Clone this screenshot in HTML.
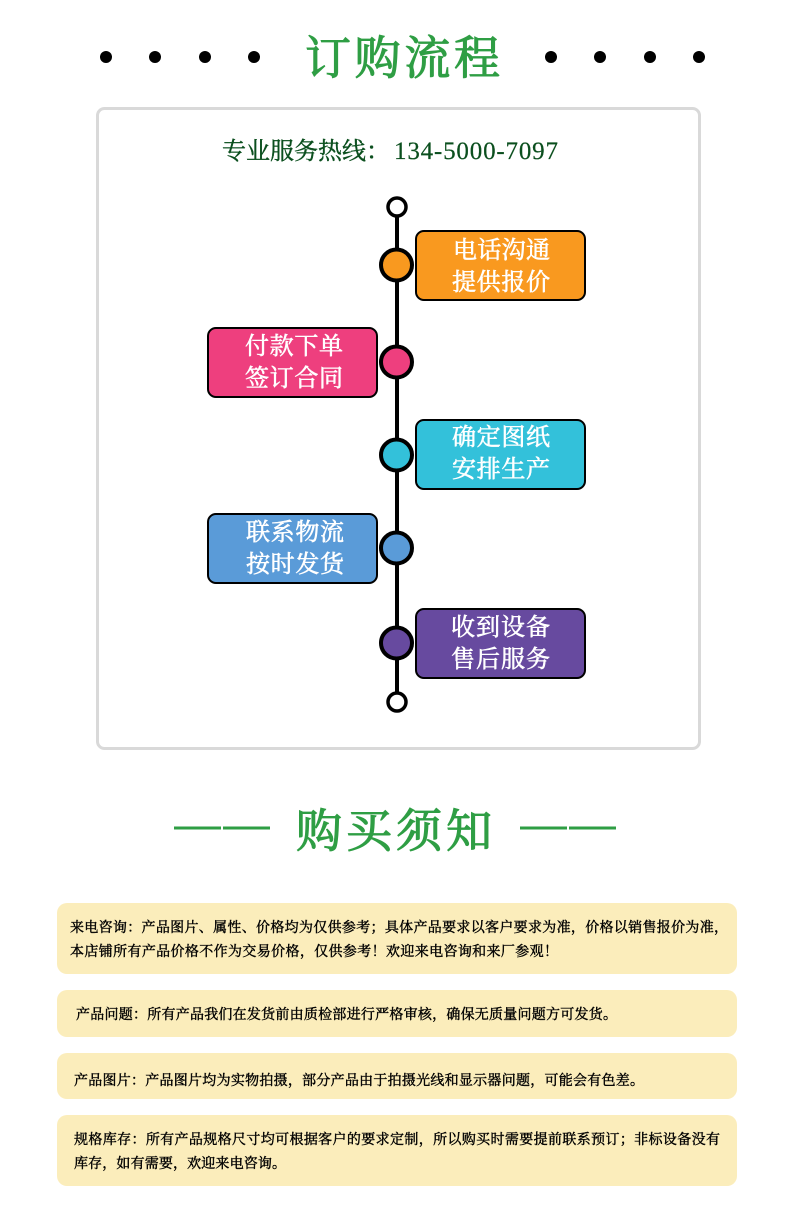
<!DOCTYPE html>
<html lang="zh"><head><meta charset="utf-8"><style>
html,body{margin:0;padding:0;background:#fff}
svg{display:block}
text{font-family:"Liberation Serif","Noto Serif CJK SC",serif}
.h{font-size:46px;fill:#2f9e44;stroke:#2f9e44;stroke-width:1.1}
.b{font-size:24px;fill:#fff;stroke:#fff;stroke-width:.6}
.n{font-size:14px;fill:#000;stroke:#000;stroke-width:.4}
</style></head><body>
<svg width="800" height="1232" viewBox="0 0 800 1232" xmlns="http://www.w3.org/2000/svg">
<g fill="#000"><circle cx="106" cy="57" r="6"/><circle cx="155" cy="57" r="6"/><circle cx="205" cy="57" r="6"/><circle cx="254" cy="57" r="6"/><circle cx="551" cy="57" r="6"/><circle cx="600" cy="57" r="6"/><circle cx="650" cy="57" r="6"/><circle cx="699" cy="57" r="6"/></g>
<text class="h" x="305" y="74" textLength="195">订购流程</text>
<rect x="97.5" y="108.5" width="602" height="640" rx="7" fill="#fff" stroke="#d9d9d9" stroke-width="3"/>
<text x="222" y="159" font-size="24" fill="#0b4f1e" stroke="#0b4f1e" stroke-width=".4" textLength="168">专业服务热线&#xFF1A;</text>
<text x="394" y="159" font-size="25" fill="#0b4f1e" stroke="#0b4f1e" stroke-width=".2" textLength="164">134-5000-7097</text>
<line x1="397" y1="215" x2="397" y2="695" stroke="#000" stroke-width="4"/>
<circle cx="397" cy="207" r="9" fill="#fff" stroke="#000" stroke-width="3.5"/>
<circle cx="397" cy="702" r="9" fill="#fff" stroke="#000" stroke-width="3.5"/>
<g stroke="#000" stroke-width="4">
<circle cx="396.5" cy="265" r="15.5" fill="#f9991f"/>
<circle cx="396.5" cy="362" r="15.5" fill="#ee3f7e"/>
<circle cx="396.5" cy="455" r="15.5" fill="#33c1da"/>
<circle cx="396.5" cy="548" r="15.5" fill="#5a9bd8"/>
<circle cx="396.5" cy="643" r="15.5" fill="#674a9f"/>
</g>
<g stroke="#000" stroke-width="2">
<rect x="416" y="231" width="169" height="69" rx="8" fill="#f9991f"/>
<rect x="208" y="328" width="169" height="69" rx="8" fill="#ee3f7e"/>
<rect x="416" y="420" width="169" height="69" rx="8" fill="#33c1da"/>
<rect x="208" y="514" width="169" height="69" rx="8" fill="#5a9bd8"/>
<rect x="416" y="609" width="169" height="69" rx="8" fill="#674a9f"/>
</g>
<text class="b" x="453" y="258" textLength="97">电话沟通</text>
<text class="b" x="452" y="290" textLength="98">提供报价</text>
<text class="b" x="245" y="354" textLength="98">付款下单</text>
<text class="b" x="245" y="386" textLength="98">签订合同</text>
<text class="b" x="452" y="445" textLength="98">确定图纸</text>
<text class="b" x="452" y="477" textLength="98">安排生产</text>
<text class="b" x="246" y="540" textLength="98">联系物流</text>
<text class="b" x="246" y="572" textLength="98">按时发货</text>
<text class="b" x="451" y="635" textLength="99">收到设备</text>
<text class="b" x="451" y="667" textLength="99">售后服务</text>
<g stroke="#2f9e44" stroke-width="3"><line x1="174" y1="828" x2="221" y2="828"/><line x1="223" y1="828" x2="270" y2="828"/><line x1="520" y1="828" x2="567" y2="828"/><line x1="569" y1="828" x2="616" y2="828"/></g>
<text class="h" x="296" y="847" textLength="196">购买须知</text>
<g fill="#fbedbb">
<rect x="57" y="903" width="680" height="71" rx="10"/>
<rect x="57" y="990" width="680" height="47" rx="10"/>
<rect x="57" y="1053" width="680" height="46" rx="10"/>
<rect x="57" y="1115" width="680" height="71" rx="10"/>
</g>
<text class="n" x="70" y="932" textLength="658">来电咨询&#xFF1A;产品图片、属性、价格均为仅供参考&#xFF1B;具体产品要求以客户要求为准&#xFF0C;价格以销售报价为准&#xFF0C;</text>
<text class="n" x="70" y="956" textLength="488">本店铺所有产品价格不作为交易价格&#xFF0C;仅供参考&#xFF01;欢迎来电咨询和来厂参观&#xFF01;</text>
<text class="n" x="76" y="1019" textLength="541">产品问题&#xFF1A;所有产品我们在发货前由质检部进行严格审核&#xFF0C;确保无质量问题方可发货。</text>
<text class="n" x="74" y="1085" textLength="570">产品图片&#xFF1A;产品图片均为实物拍摄&#xFF0C;部分产品由于拍摄光线和显示器问题&#xFF0C;可能会有色差。</text>
<text class="n" x="74" y="1144" textLength="646">规格库存&#xFF1A;所有产品规格尺寸均可根据客户的要求定制&#xFF0C;所以购买时需要提前联系预订&#xFF1B;非标设备没有</text>
<text class="n" x="74" y="1168" textLength="212">库存&#xFF0C;如有需要&#xFF0C;欢迎来电咨询。</text>
</svg>
</body></html>
